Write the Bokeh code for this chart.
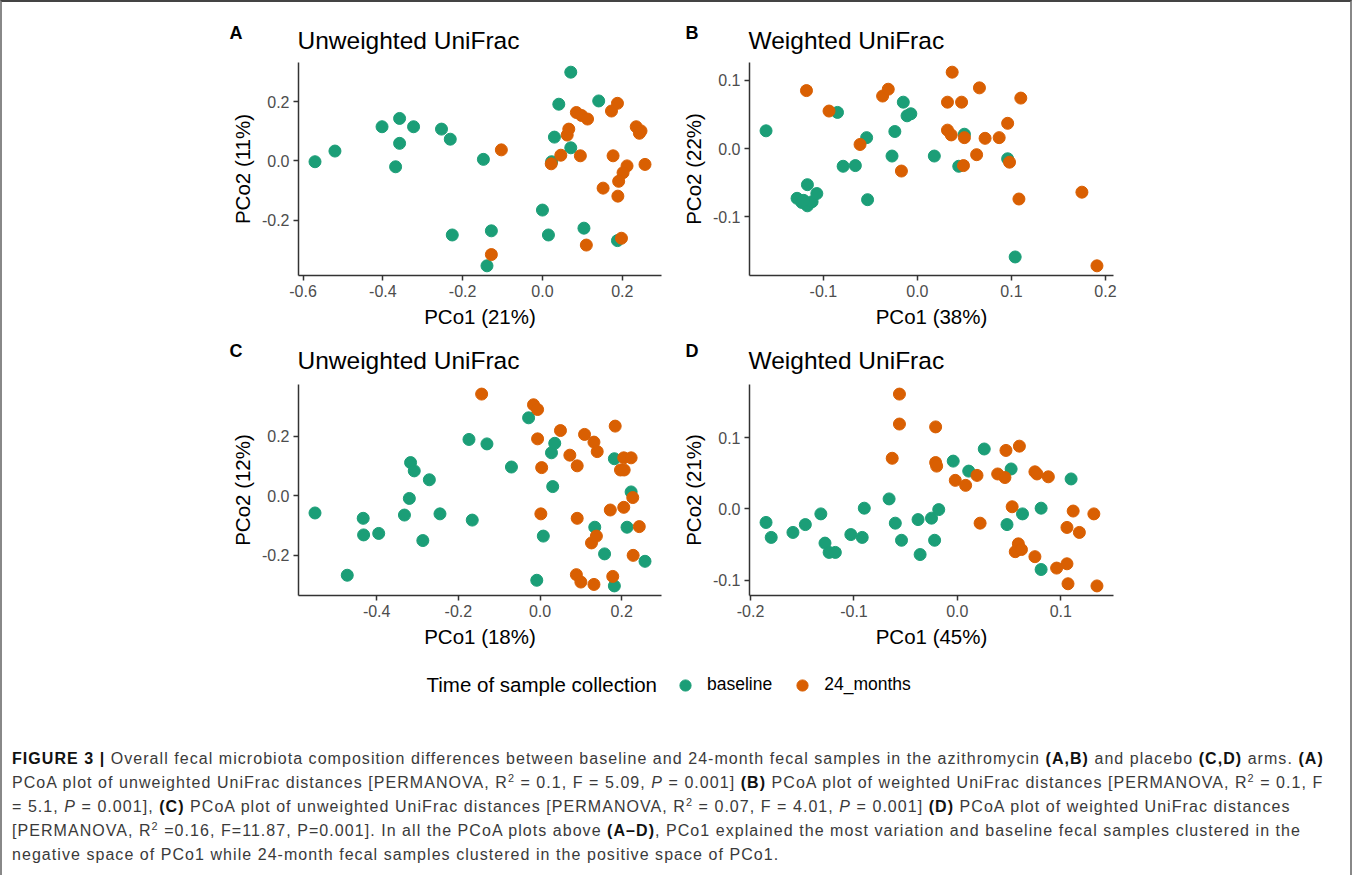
from bokeh.plotting import figure
from bokeh.models import Range1d, FixedTicker, PrintfTickFormatter, Label, Legend, LegendItem, Div, ColumnDataSource
from bokeh.layouts import row, column
from bokeh.embed import file_html
from bokeh.resources import INLINE

GREEN = "#1B9E77"
ORANGE = "#D95F02"
FONT = "Liberation Sans"

# ---------------- data ----------------
# Panel A - azithromycin, unweighted UniFrac
a_base_x = [-0.570, -0.520, -0.402, -0.358, -0.323, -0.358, -0.368, -0.253, -0.231, -0.148, -0.226, -0.128,
            -0.139, 0.071, 0.041, 0.141, 0.030, 0.071, 0.023, 0.000, 0.015, 0.104, 0.188]
a_base_y = [-0.003, 0.033, 0.115, 0.143, 0.115, 0.059, -0.020, 0.107, 0.073, 0.005, -0.250, -0.236,
            -0.354, 0.299, 0.191, 0.202, 0.080, 0.044, -0.003, -0.166, -0.250, -0.227, -0.269]
a_m24_x = [-0.103, -0.128, 0.022, 0.046, 0.062, 0.066, 0.085, 0.098, 0.113, 0.095, 0.173, 0.188,
           0.177, 0.235, 0.247, 0.243, 0.257, 0.212, 0.202, 0.191, 0.152, 0.189, 0.198, 0.110]
a_m24_y = [0.037, -0.316, -0.010, 0.019, 0.087, 0.107, 0.163, 0.153, 0.141, 0.017, 0.168, 0.194,
           0.017, 0.115, 0.101, 0.093, -0.012, -0.017, -0.040, -0.069, -0.092, -0.119, -0.261, -0.284]

# Panel B - azithromycin, weighted UniFrac
b_base_x = [-0.161, -0.085, -0.117, -0.128, -0.123, -0.117, -0.112, -0.107, -0.121, -0.079, -0.066, -0.054,
            -0.053, -0.027, -0.024, -0.015, -0.011, -0.007, 0.018, 0.050, 0.044, 0.096, 0.104]
b_base_y = [0.026, 0.053, -0.053, -0.073, -0.079, -0.084, -0.078, -0.066, -0.076, -0.026, -0.025, 0.016,
            -0.075, -0.011, 0.025, 0.068, 0.048, 0.051, -0.011, 0.021, -0.026, -0.015, -0.159]
b_m24_x = [-0.118, -0.094, -0.061, -0.037, -0.031, -0.017, 0.037, 0.032, 0.047, 0.032, 0.036, 0.050,
           0.049, 0.063, 0.066, 0.072, 0.087, 0.096, 0.098, 0.110, 0.108, 0.175, 0.191]
b_m24_y = [0.085, 0.055, 0.006, 0.077, 0.087, -0.033, 0.112, 0.068, 0.068, 0.027, 0.020, 0.016,
           -0.025, -0.009, 0.089, 0.015, 0.016, 0.037, -0.020, 0.074, -0.074, -0.064, -0.172]

# Panel C - placebo, unweighted UniFrac
c_base_x = [-0.551, -0.472, -0.433, -0.432, -0.395, -0.332, -0.320, -0.317, -0.308, -0.287, -0.271, -0.245,
            -0.174, -0.166, -0.130, -0.070, -0.028, -0.008, 0.008, 0.031, 0.028, 0.036, 0.134, 0.158,
            0.182, 0.182, 0.213, 0.223, 0.257]
c_base_y = [-0.058, -0.268, -0.076, -0.132, -0.127, -0.065, -0.009, 0.112, 0.084, -0.151, 0.054, -0.061,
            0.190, -0.082, 0.175, 0.097, 0.263, -0.285, -0.136, 0.031, 0.145, 0.177, -0.106, -0.196,
            0.125, -0.304, -0.106, 0.013, -0.221]
c_m24_x = [-0.143, -0.016, -0.006, -0.006, 0.004, 0.002, 0.050, 0.073, 0.091, 0.091, 0.109, 0.132,
           0.140, 0.089, 0.100, 0.132, 0.126, 0.138, 0.184, 0.172, 0.178, 0.197, 0.206, 0.205,
           0.223, 0.205, 0.227, 0.243, 0.228]
c_m24_y = [0.343, 0.307, 0.291, 0.192, 0.095, -0.061, 0.220, 0.137, 0.101, -0.076, 0.207, 0.181,
           0.149, -0.266, -0.291, -0.299, -0.159, -0.136, 0.235, -0.048, -0.272, 0.087, 0.087, 0.128,
           0.128, -0.039, -0.006, -0.104, -0.201]

# Panel D - placebo, weighted UniFrac
d_base_x = [-0.185, -0.180, -0.159, -0.147, -0.132, -0.128, -0.124, -0.118, -0.103, -0.092, -0.090, -0.066,
            -0.060, -0.054, -0.038, -0.036, -0.025, -0.022, -0.018, -0.004, 0.011, 0.026, 0.052, 0.048,
            0.063, 0.081, 0.081, 0.110]
d_base_y = [-0.019, -0.040, -0.033, -0.022, -0.007, -0.048, -0.061, -0.061, -0.036, -0.040, 0.001, 0.014,
            -0.020, -0.044, -0.015, -0.064, -0.013, -0.044, -0.001, 0.067, 0.053, 0.084, 0.056, -0.022,
            -0.007, 0.001, -0.085, 0.042]
d_m24_x = [-0.056, -0.056, -0.063, -0.021, -0.021, -0.020, -0.002, 0.008, 0.019, 0.022, 0.039, 0.046,
           0.047, 0.060, 0.053, 0.059, 0.056, 0.062, 0.075, 0.077, 0.088, 0.075, 0.096, 0.106,
           0.107, 0.106, 0.112, 0.118, 0.132, 0.135]
d_m24_y = [0.161, 0.119, 0.071, 0.115, 0.065, 0.060, 0.040, 0.033, 0.047, -0.020, 0.049, 0.044,
           0.082, 0.088, 0.003, -0.049, -0.060, -0.057, 0.052, 0.049, 0.045, -0.067, -0.083, -0.077,
           -0.105, -0.026, -0.003, -0.033, -0.007, -0.108]

panel_letters = ["A", "B", "C", "D"]
panel_titles = ["Unweighted UniFrac", "Weighted UniFrac", "Unweighted UniFrac", "Weighted UniFrac"]
x_labels = ["PCo1 (21%)", "PCo1 (38%)", "PCo1 (18%)", "PCo1 (45%)"]
y_labels = ["PCo2 (11%)", "PCo2 (22%)", "PCo2 (12%)", "PCo2 (21%)"]
x_ticks = [[-0.6, -0.4, -0.2, 0.0, 0.2], [-0.1, 0.0, 0.1, 0.2], [-0.4, -0.2, 0.0, 0.2], [-0.2, -0.1, 0.0, 0.1]]
y_ticks = [[-0.2, 0.0, 0.2], [-0.1, 0.0, 0.1], [-0.2, 0.0, 0.2], [-0.1, 0.0, 0.1]]
legend_title = "Time of sample collection"
legend_labels = ["baseline", "24_months"]

TOTAL_W = 1338


def expanded(vals, frac=0.05):
    lo, hi = min(vals), max(vals)
    pad = (hi - lo) * frac
    return Range1d(lo - pad, hi + pad)


def blank_strip(height):
    """A figure whose frame is the whole strip, with pixel-like data units (y downward)."""
    s = figure(width=TOTAL_W, height=height, x_range=Range1d(0, TOTAL_W), y_range=Range1d(height, 0),
               output_backend="svg", toolbar_location=None,
               min_border_left=0, min_border_right=0, min_border_top=0, min_border_bottom=0)
    s.axis.visible = False
    s.grid.visible = False
    s.outline_line_color = None
    return s


def header_strip(height, idx_left, idx_right, letter_y, title_y):
    s = blank_strip(height)
    for idx, lx, tx in ((idx_left, 227, 295), (idx_right, 683, 746)):
        s.add_layout(Label(x=lx, y=letter_y, text=panel_letters[idx], text_font=FONT,
                           text_font_size="18px", text_font_style="bold", text_color="black",
                           text_baseline="middle", text_align="left"))
        s.add_layout(Label(x=tx, y=title_y, text=panel_titles[idx], text_font=FONT,
                           text_font_size="24.5px", text_color="black",
                           text_baseline="middle", text_align="left"))
    return s


def make_panel(idx, bx, by, ox, oy, width, height, mb_left, mb_right, mb_top, mb_bottom):
    p = figure(width=width, height=height,
               x_range=expanded(bx + ox), y_range=expanded(by + oy),
               output_backend="svg", toolbar_location=None,
               min_border_left=mb_left, min_border_right=mb_right,
               min_border_top=mb_top, min_border_bottom=mb_bottom,
               background_fill_color="white", border_fill_color="white")
    p.outline_line_color = None
    p.xgrid.visible = False
    p.ygrid.visible = False

    p.xaxis.axis_label = x_labels[idx]
    p.yaxis.axis_label = y_labels[idx]
    p.xaxis.ticker = FixedTicker(ticks=x_ticks[idx], minor_ticks=[])
    p.yaxis.ticker = FixedTicker(ticks=y_ticks[idx], minor_ticks=[])
    for ax in (p.xaxis, p.yaxis):
        ax.formatter = PrintfTickFormatter(format="%.1f")
        ax.axis_label_text_font = FONT
        ax.axis_label_text_font_size = "20.5px"
        ax.axis_label_text_font_style = "normal"
        ax.axis_label_text_color = "black"
        ax.axis_label_standoff = 5
        ax.major_label_text_font = FONT
        ax.major_label_text_font_size = "16px"
        ax.major_label_text_color = "#4D4D4D"
        ax.major_label_standoff = 4
        ax.axis_line_color = "#333333"
        ax.axis_line_width = 1.5
        ax.major_tick_line_color = "#333333"
        ax.major_tick_line_width = 1.5
        ax.major_tick_out = 5
        ax.major_tick_in = 0
        ax.minor_tick_line_color = None

    p.scatter(bx, by, size=12, color=GREEN)
    p.scatter(ox, oy, size=12, color=ORANGE)
    return p


head1 = header_strip(52, 0, 1, 30, 38)
pA = make_panel(0, a_base_x, a_base_y, a_m24_x, a_m24_y, 672, 278, 296, 13, 8, 57)
pB = make_panel(1, b_base_x, b_base_y, b_m24_x, b_m24_y, 666, 278, 75, 227, 8, 57)
head2 = header_strip(44, 2, 3, 18, 28)
pC = make_panel(2, c_base_x, c_base_y, c_m24_x, c_m24_y, 672, 286, 296, 13, 8, 67)
pD = make_panel(3, d_base_x, d_base_y, d_m24_x, d_m24_y, 666, 286, 75, 227, 8, 67)

# ---------------- legend strip ----------------
pL = blank_strip(45)
# legend key renderers: one point each, placed outside the visible strip range
key_src_base = ColumnDataSource(data=dict(x=[-1000.0], y=[-1000.0]))
key_src_m24 = ColumnDataSource(data=dict(x=[-1000.0], y=[-1000.0]))
r_base = pL.scatter("x", "y", source=key_src_base, size=12, color=GREEN)
r_m24 = pL.scatter("x", "y", source=key_src_m24, size=12, color=ORANGE)
leg = Legend(items=[LegendItem(label=legend_labels[0], renderers=[r_base]),
                    LegendItem(label=legend_labels[1], renderers=[r_m24])],
             orientation="horizontal", location="center_left", margin=669,
             glyph_width=28, glyph_height=28, label_standoff=8, spacing=16,
             padding=0, border_line_color=None, background_fill_alpha=0,
             label_text_font=FONT, label_text_font_size="17.5px", label_text_color="black",
             label_height=28)
pL.add_layout(leg)
pL.add_layout(Label(x=424, y=22, text=legend_title,
                    text_font=FONT, text_font_size="20.5px", text_color="black",
                    text_baseline="middle", text_align="left"))

# ---------------- caption ----------------
sup = "<sup style='font-size:0.68em;line-height:0;vertical-align:0.55em'>2</sup>"
B = "<b style='color:#111'>"
caption_lines = [
    B + "FIGURE 3 |</b> Overall fecal microbiota composition differences between baseline and 24-month fecal samples in the azithromycin " + B + "(A,B)</b> and placebo " + B + "(C,D)</b> arms. " + B + "(A)</b>",
    "PCoA plot of unweighted UniFrac distances [PERMANOVA, R" + sup + " = 0.1, F = 5.09, <i>P</i> = 0.001] " + B + "(B)</b> PCoA plot of weighted UniFrac distances [PERMANOVA, R" + sup + " = 0.1, F",
    "= 5.1, <i>P</i> = 0.001], " + B + "(C)</b> PCoA plot of unweighted UniFrac distances [PERMANOVA, R" + sup + " = 0.07, F = 4.01, <i>P</i> = 0.001] " + B + "(D)</b> PCoA plot of weighted UniFrac distances",
    "[PERMANOVA, R" + sup + " =0.16, F=11.87, P=0.001]. In all the PCoA plots above " + B + "(A–D)</b>, PCo1 explained the most variation and baseline fecal samples clustered in the",
    "negative space of PCo1 while 24-month fecal samples clustered in the positive space of PCo1.",
]
caption_html = ("<div style=\"font-family:'Liberation Sans',Arial,sans-serif;font-size:16px;letter-spacing:1.05px;"
                "line-height:24px;color:#3a3a3a;white-space:nowrap;padding-left:5px;padding-top:35px;\">"
                + "<br>".join(caption_lines) + "</div>")
cap = Div(text=caption_html, width=TOTAL_W, height=158)

layout = column(head1, row(pA, pB), head2, row(pC, pD), pL, cap,
                styles={"border-top": "2px solid #444444", "border-left": "2px solid #888888",
                        "border-right": "2px solid #888888"})

open("out.html", "w").write(file_html(layout, INLINE))
